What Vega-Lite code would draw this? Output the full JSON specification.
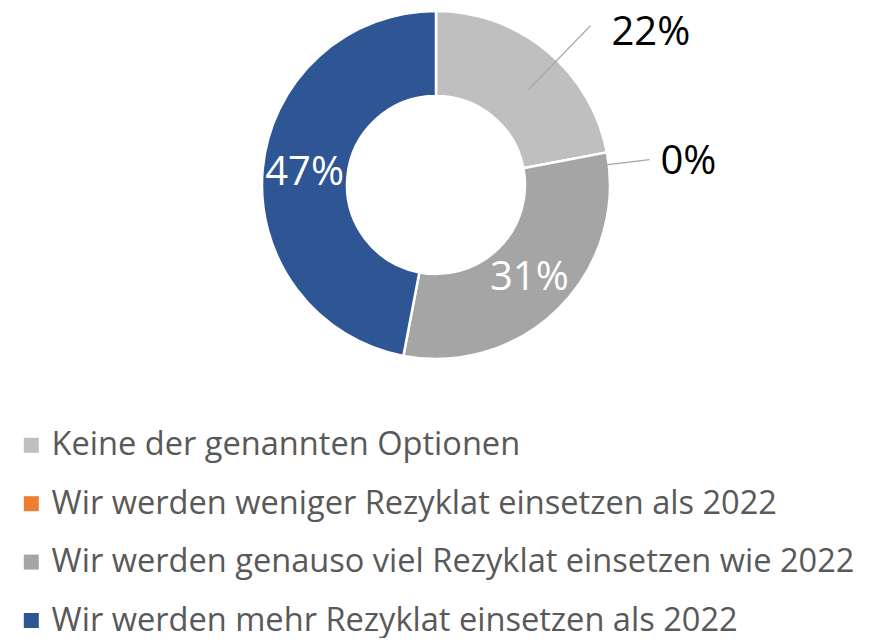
{
  "$schema": "https://vega.github.io/schema/vega-lite/v6.json",
  "width": 872,
  "height": 370,
  "padding": 0,
  "autosize": {"type": "pad"},
  "background": "white",
  "config": {"view": {"stroke": null}, "font": "Open Sans"},
  "data": {
    "values": [
      {"cat": "Keine der genannten Optionen", "pct": 22, "order": 1, "label": "22%"},
      {"cat": "Wir werden weniger Rezyklat einsetzen als 2022", "pct": 0, "order": 2, "label": "0%"},
      {"cat": "Wir werden genauso viel Rezyklat einsetzen wie 2022", "pct": 31, "order": 3, "label": "31%"},
      {"cat": "Wir werden mehr Rezyklat einsetzen als 2022", "pct": 47, "order": 4, "label": "47%"}
    ]
  },
  "layer": [
    {
      "mark": {"type": "arc", "outerRadius": 174, "innerRadius": 89, "stroke": "white", "strokeWidth": 2.5},
      "encoding": {
        "theta": {"field": "pct", "type": "quantitative", "stack": true},
        "order": {"field": "order", "type": "quantitative"},
        "color": {
          "field": "cat",
          "type": "nominal",
          "scale": {
            "domain": [
              "Keine der genannten Optionen",
              "Wir werden weniger Rezyklat einsetzen als 2022",
              "Wir werden genauso viel Rezyklat einsetzen wie 2022",
              "Wir werden mehr Rezyklat einsetzen als 2022"
            ],
            "range": ["#BFBFBF", "#ED7D31", "#A5A5A5", "#2E5594"]
          },
          "legend": {
            "title": null,
            "orient": "none",
            "legendX": 15,
            "legendY": 429,
            "padding": 0,
            "symbolType": "square",
            "symbolSize": 225,
            "symbolStrokeWidth": 0,
            "labelFontSize": 32.6,
            "labelColor": "#595959",
            "labelFont": "Open Sans",
            "labelLimit": 900,
            "labelOffset": 4,
            "rowPadding": 25.4
          }
        }
      }
    },
    {
      "transform": [
        {"stack": "pct", "groupby": [], "sort": [{"field": "order"}], "as": ["s0", "s1"]},
        {"filter": "datum.order === 1"}
      ],
      "mark": {"type": "arc", "outerRadius": 222, "innerRadius": 133, "thetaOffset": 0.77, "theta2Offset": 0.77, "fill": null, "stroke": "#A6A6A6", "strokeWidth": 1.3},
      "encoding": {
        "theta": {"field": "s0", "type": "quantitative"},
        "theta2": {"field": "s0"}
      }
    },
    {
      "transform": [
        {"stack": "pct", "groupby": [], "sort": [{"field": "order"}], "as": ["s0", "s1"]},
        {"filter": "datum.order === 2"}
      ],
      "mark": {"type": "arc", "outerRadius": 215, "innerRadius": 133, "thetaOffset": 0.07, "theta2Offset": 0.07, "fill": null, "stroke": "#A6A6A6", "strokeWidth": 1.3},
      "encoding": {
        "theta": {"field": "s0", "type": "quantitative"},
        "theta2": {"field": "s0"}
      }
    },
    {
      "mark": {"type": "text", "radius": 132, "fontSize": 40, "fill": "white", "font": "Open Sans"},
      "encoding": {
        "theta": {"field": "pct", "type": "quantitative", "stack": true},
        "order": {"field": "order", "type": "quantitative"},
        "text": {"condition": {"test": "datum.order >= 3", "field": "label"}, "value": ""}
      }
    },
    {
      "mark": {"type": "text", "radius": 200, "fontSize": 40, "fill": "black", "align": "left", "dx": 48, "dy": 2, "font": "Open Sans"},
      "encoding": {
        "theta": {"field": "pct", "type": "quantitative", "stack": true},
        "order": {"field": "order", "type": "quantitative"},
        "text": {"condition": {"test": "datum.order === 1", "field": "label"}, "value": ""}
      }
    },
    {
      "mark": {"type": "text", "radius": 200, "fontSize": 40, "fill": "black", "align": "left", "dx": 28, "dy": 14, "font": "Open Sans"},
      "encoding": {
        "theta": {"field": "pct", "type": "quantitative", "stack": true},
        "order": {"field": "order", "type": "quantitative"},
        "text": {"condition": {"test": "datum.order === 2", "field": "label"}, "value": ""}
      }
    }
  ]
}
